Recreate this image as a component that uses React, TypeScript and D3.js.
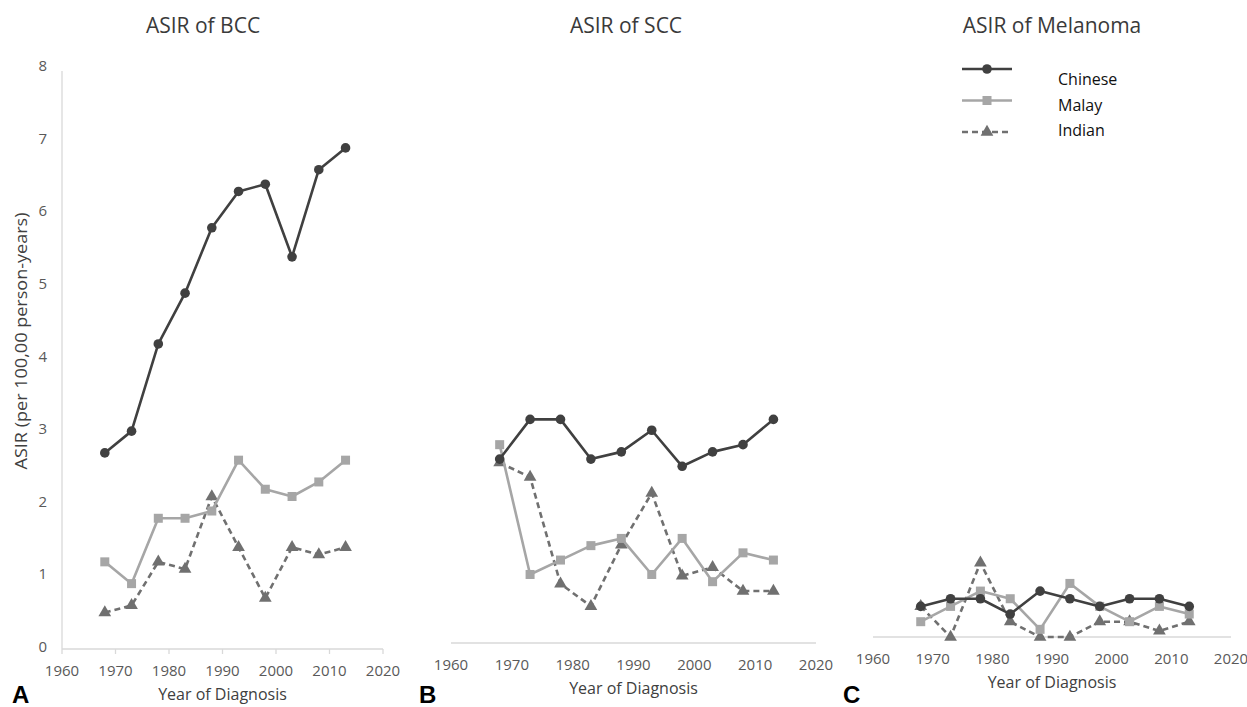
import React from 'react'
import * as d3 from 'd3'

const years = [1968, 1973, 1978, 1983, 1988, 1993, 1998, 2003, 2008, 2013]
const xTicks = [1960, 1970, 1980, 1990, 2000, 2010, 2020]
const yTicksA = [0, 1, 2, 3, 4, 5, 6, 7, 8]

const bccChinese = [2.7, 3.0, 4.2, 4.9, 5.8, 6.3, 6.4, 5.4, 6.6, 6.9]
const bccMalay = [1.2, 0.9, 1.8, 1.8, 1.9, 2.6, 2.2, 2.1, 2.3, 2.6]
const bccIndian = [0.5, 0.6, 1.2, 1.1, 2.1, 1.4, 0.7, 1.4, 1.3, 1.4]

const sccChinese = [2.55, 3.1, 3.1, 2.55, 2.65, 2.95, 2.45, 2.65, 2.75, 3.1]
const sccMalay = [2.75, 0.95, 1.15, 1.35, 1.45, 0.95, 1.45, 0.85, 1.25, 1.15]
const sccIndian = [2.5, 2.3, 0.82, 0.51, 1.36, 2.08, 0.93, 1.05, 0.72, 0.72]

const melChinese = [0.4, 0.5, 0.5, 0.3, 0.6, 0.5, 0.4, 0.5, 0.5, 0.4]
const melMalay = [0.2, 0.4, 0.6, 0.5, 0.1, 0.7, 0.4, 0.2, 0.4, 0.3]
const melIndian = [0.4, 0, 0.97, 0.2, 0, 0, 0.2, 0.2, 0.08, 0.2]

const groups = ['Chinese', 'Malay', 'Indian']

const FONT = '"Open Sans", "Noto Sans", sans-serif'
const C_DARK = '#404040'
const C_LIGHT = '#a6a6a6'
const C_MID = '#707070'
const AXIS = '#d9d9d9'

type Panel = {
  title: string
  titleX: number
  letter: string
  letterX: number
  series: number[][]
  x0: number
  x1: number
  top: number
  base: number
  yMax: number
  showY: boolean
  ticks: boolean
}

const panels: Panel[] = [
  { title: 'ASIR of BCC', titleX: 203, letter: 'A', letterX: 12, series: [bccChinese, bccMalay, bccIndian], x0: 62, x1: 383, top: 68, base: 649, yMax: 8, showY: true, ticks: true },
  { title: 'ASIR of SCC', titleX: 626, letter: 'B', letterX: 419, series: [sccChinese, sccMalay, sccIndian], x0: 451, x1: 816, top: 66, base: 643, yMax: 8, showY: false, ticks: false },
  { title: 'ASIR of Melanoma', titleX: 1052, letter: 'C', letterX: 843, series: [melChinese, melMalay, melIndian], x0: 873, x1: 1231, top: 63, base: 637, yMax: 7.5, showY: false, ticks: false },
]

const styles = [
  { color: C_DARK, dash: undefined as string | undefined, shape: 'circle' },
  { color: C_LIGHT, dash: undefined as string | undefined, shape: 'square' },
  { color: C_MID, dash: '6,4', shape: 'triangle' },
]

function Marker({ shape, x, y, color }: { shape: string; x: number; y: number; color: string }) {
  if (shape === 'circle') return <circle cx={x} cy={y} r={4.8} fill={color} />
  if (shape === 'square') return <rect x={x - 4.5} y={y - 4.5} width={9} height={9} fill={color} />
  const d = d3.symbol().type(d3.symbolTriangle).size(70)()
  return <path d={d ?? ''} transform={`translate(${x},${y})`} fill={color} />
}

function ChartPanel({ p }: { p: Panel }) {
  const x = d3.scaleLinear().domain([1960, 2020]).range([p.x0, p.x1])
  const y = d3.scaleLinear().domain([0, p.yMax]).range([p.base, p.top])
  const line = d3
    .line<number>()
    .x((_, i) => x(years[i]))
    .y((v) => y(v))
  const cx = (p.x0 + p.x1) / 2
  const order = [2, 1, 0]
  return (
    <g>
      <text x={p.titleX} y={33} textAnchor="middle" fontSize={21} fill="#3a3a3a" fontFamily={FONT}>
        {p.title}
      </text>
      {p.showY && (
        <>
          <line x1={p.x0} x2={p.x0} y1={p.top + 3} y2={p.base} stroke={AXIS} strokeWidth={1.3} />
          {yTicksA.map((t) => (
            <text key={t} x={p.x0 - 15} y={y(t) + 3} textAnchor="end" fontSize={15} fill="#595959" fontFamily={FONT}>
              {t}
            </text>
          ))}
          <text
            transform={`translate(27,341) rotate(-90)`}
            textAnchor="middle"
            fontSize={15.5}
            fill="#404040"
            fontFamily={FONT}
            textLength={257}
            lengthAdjust="spacingAndGlyphs"
          >
            ASIR (per 100,00 person-years)
          </text>
        </>
      )}
      <line x1={p.x0} x2={p.x1} y1={p.base} y2={p.base} stroke={AXIS} strokeWidth={1.3} />
      {xTicks.map((t) => (
        <g key={t}>
          {p.ticks && <line x1={x(t)} x2={x(t)} y1={p.base} y2={p.base + 5} stroke={AXIS} strokeWidth={1.3} />}
          <text x={x(t)} y={p.base + 27} textAnchor="middle" fontSize={15} fill="#595959" fontFamily={FONT}>
            {t}
          </text>
        </g>
      ))}
      <text x={cx} y={p.base + 51} textAnchor="middle" fontSize={16} fill="#404040" fontFamily={FONT}>
        Year of Diagnosis
      </text>
      <text x={p.letterX} y={703} fontSize={24} fontWeight="bold" fill="#000" fontFamily="Liberation Sans, Arial, sans-serif">
        {p.letter}
      </text>
      {order.map((k) => (
        <g key={k}>
          <path
            d={line(p.series[k]) ?? ''}
            fill="none"
            stroke={styles[k].color}
            strokeWidth={2.6}
            strokeDasharray={styles[k].dash}
            strokeLinejoin="round"
          />
          {p.series[k].map((v, i) => (
            <Marker key={i} shape={styles[k].shape} x={x(years[i])} y={y(v)} color={styles[k].color} />
          ))}
        </g>
      ))}
    </g>
  )
}

function Legend() {
  const lineY = d3.scalePoint<string>().domain(groups).range([69, 132])
  const textY = d3.scalePoint<string>().domain(groups).range([79, 130])
  return (
    <g>
      {groups.map((g, k) => (
        <g key={g}>
          <line
            x1={962}
            x2={1012}
            y1={lineY(g)}
            y2={lineY(g)}
            stroke={styles[k].color}
            strokeWidth={2.6}
            strokeDasharray={styles[k].dash}
          />
          <Marker shape={styles[k].shape} x={987} y={lineY(g) ?? 0} color={styles[k].color} />
          <text x={1058} y={(textY(g) ?? 0) + 6} fontSize={16} fill="#111" fontFamily={FONT}>
            {g}
          </text>
        </g>
      ))}
    </g>
  )
}

export default function App() {
  return (
    <svg
      width={1247}
      height={707}
      style={{ position: 'absolute', left: 0, top: 0, background: '#fff' }}
    >
      <rect width={1247} height={707} fill="#fff" />
      {panels.map((p) => (
        <ChartPanel key={p.letter} p={p} />
      ))}
      <Legend />
    </svg>
  )
}
